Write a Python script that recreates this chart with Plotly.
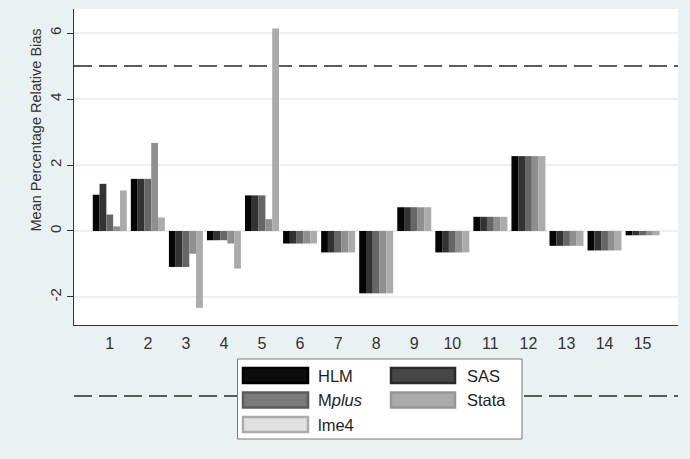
import plotly.graph_objects as go

# Data: mean percentage relative bias by condition and software
CONDITIONS = list(range(1, 16))
SERIES = ["HLM", "SAS", "Mplus", "Stata", "lme4"]
LEGEND_LABELS = ["HLM", "SAS", "M<i>plus</i>", "Stata", "lme4"]
Y_TITLE = "Mean Percentage Relative Bias"

HLM   = [1.10, 1.58, -1.09, -0.28, 1.08, -0.38, -0.65, -1.89, 0.72, -0.65, 0.43, 2.27, -0.45, -0.59, -0.13]
SAS   = [1.43, 1.58, -1.09, -0.28, 1.08, -0.38, -0.65, -1.89, 0.72, -0.65, 0.43, 2.27, -0.45, -0.59, -0.13]
MPLUS = [0.50, 1.58, -1.09, -0.28, 1.08, -0.38, -0.65, -1.89, 0.72, -0.65, 0.43, 2.27, -0.45, -0.59, -0.13]
STATA = [0.14, 2.67, -0.69, -0.38, 0.36, -0.38, -0.65, -1.89, 0.72, -0.65, 0.43, 2.27, -0.45, -0.59, -0.13]
LME4  = [1.23, 0.41, -2.33, -1.14, 6.14, -0.38, -0.65, -1.89, 0.72, -0.65, 0.43, 2.27, -0.45, -0.59, -0.13]
VALUES = [HLM, SAS, MPLUS, STATA, LME4]

# Reference lines at +/- 5 percent
REF_LINES = [5, -5]
Y_TICKS = [-2, 0, 2, 4, 6]
Y_RANGE = [-2.85, 6.73]
X_RANGE = [0.06, 15.93]

BAR_COLORS = ["#050505", "#333333", "#666666", "#8f8f8f", "#ababab"]
KEY_FILL = ["#0c0c0c", "#474747", "#7a7a7a", "#ababab", "#e0e0e0"]
KEY_LINE = ["#000000", "#2a2a2a", "#5c5c5c", "#979797", "#ababab"]

W, H = 690, 459
ML, MR, MT, MB = 74, 12, 9, 134
PW, PH = W - ML - MR, H - MT - MB
FONT = "Liberation Sans, Arial, sans-serif"
TEXT = "#333333"


def px_x(x):
    return (x - ML) / PW


def px_y(y):
    return (H - MB - y) / PH


def dom_y(v):
    return (v - Y_RANGE[0]) / (Y_RANGE[1] - Y_RANGE[0])


fig = go.Figure()
for name, vals, col in zip(SERIES, VALUES, BAR_COLORS):
    fig.add_trace(go.Bar(
        x=CONDITIONS, y=vals, name=name,
        marker=dict(color=col, line=dict(width=0)),
        showlegend=False,
    ))

shapes = []
annotations = []

# Dashed reference lines
for v in REF_LINES:
    shapes.append(dict(
        type="line", xref="x domain", yref="y domain",
        x0=0, x1=1, y0=dom_y(v), y1=dom_y(v),
        line=dict(color="#5a5a5a", width=2, dash="18px,7px"),
        layer="below" if Y_RANGE[0] <= v <= Y_RANGE[1] else "above",
    ))

# Legend box
shapes.append(dict(
    type="rect", xref="paper", yref="paper",
    x0=px_x(237.5), x1=px_x(522), y0=px_y(439), y1=px_y(359),
    fillcolor="white", line=dict(color="#7a7a7a", width=1), layer="above",
))
key_cols = [(243, 308, 318), (391, 455, 467)]
row_centers = [375.5, 400, 424.5]
for i, label in enumerate(LEGEND_LABELS):
    kx0, kx1, tx = key_cols[i % 2]
    cy = row_centers[i // 2]
    shapes.append(dict(
        type="rect", xref="paper", yref="paper",
        x0=px_x(kx0), x1=px_x(kx1), y0=px_y(cy + 7.5), y1=px_y(cy - 7.5),
        fillcolor=KEY_FILL[i], line=dict(color=KEY_LINE[i], width=2.5), layer="above",
    ))
    annotations.append(dict(
        xref="paper", yref="paper", x=px_x(tx - 2), y=px_y(cy),
        xanchor="left", yanchor="middle", showarrow=False,
        text=label, font=dict(family=FONT, size=16.5, color="#1e1e1e"),
    ))

# Y-axis title
annotations.append(dict(
    xref="paper", yref="paper", x=px_x(35.5), y=px_y(130),
    xanchor="center", yanchor="middle", showarrow=False, textangle=-90,
    text=Y_TITLE, font=dict(family=FONT, size=14.5, color=TEXT),
))

fig.update_layout(
    width=W, height=H,
    margin=dict(l=ML, r=MR, t=MT, b=MB, pad=0),
    paper_bgcolor="#eaf1f3",
    plot_bgcolor="white",
    barmode="group", bargap=0.107, bargroupgap=0,
    font=dict(family=FONT, size=14.5, color=TEXT),
    shapes=shapes,
    annotations=annotations,
    xaxis=dict(
        range=X_RANGE, tickmode="array", tickvals=CONDITIONS,
        ticktext=[str(c) for c in CONDITIONS],
        showgrid=False, zeroline=False, ticks="",
        showline=True, linecolor="#333333", linewidth=1.3,
        tickfont=dict(size=16, color=TEXT),
        ticklabelstandoff=4,
    ),
    yaxis=dict(
        range=Y_RANGE, tickmode="array", tickvals=Y_TICKS,
        ticktext=[str(t) for t in Y_TICKS], tickangle=-90,
        showgrid=True, gridcolor="#eaf1f3", gridwidth=1.5,
        zeroline=False, ticks="outside", ticklen=6, tickcolor="#333333",
        showline=True, linecolor="#333333", linewidth=1.3,
        tickfont=dict(size=15, color=TEXT),
        ticklabelstandoff=0,
    ),
)

fig.write_html("out.html")
